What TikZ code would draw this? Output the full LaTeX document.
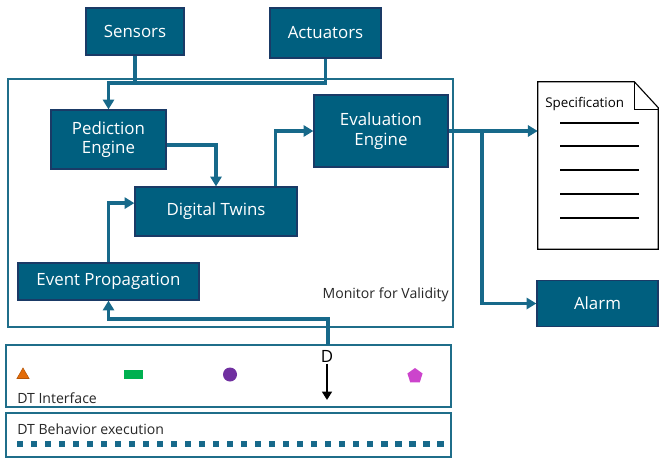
\documentclass[tikz,border=0pt]{standalone}
\usepackage{fontspec}
\setmainfont{Open Sans}
\usetikzlibrary{arrows.meta,shapes.geometric}

\definecolor{boxfill}{HTML}{005F7F}
\definecolor{boxline}{HTML}{1A3A66}
\definecolor{linkblue}{HTML}{17698A}
\definecolor{frameblue}{HTML}{1F6E8A}
\definecolor{triorange}{HTML}{E36C09}
\definecolor{recgreen}{HTML}{00B050}
\definecolor{dotpurple}{HTML}{7030A0}
\definecolor{pentmagenta}{HTML}{CC44CC}

\begin{document}
\begin{tikzpicture}[x=0.025cm,y=-0.025cm,
	block/.style={draw=boxline, line width=0.9pt, fill=boxfill, text=white, align=center,
		font=\fontsize{12}{14}\selectfont, inner sep=0pt},
	frame/.style={draw=frameblue, line width=0.8pt, inner sep=0pt},
	flow/.style={draw=linkblue, line width=2.3pt, -{Triangle[length=7pt,width=8pt]}},
	link/.style={draw=linkblue, line width=2.3pt},
	small/.style={font=\fontsize{10}{12}\selectfont, text=black!85, inner sep=0pt}]

	\useasboundingbox (0,0) rectangle (659,460);

	% frames
	\node (monitor)[frame, minimum width=11.125cm, minimum height=6.2cm] at (230.5,203) {};
	\node (iface)[frame, minimum width=11.125cm, minimum height=1.55cm] at (228.5,376) {};
	\node (behav)[frame, minimum width=11.125cm, minimum height=1.1cm] at (228.5,435) {};

	% blocks
	\node (sens)[block, minimum width=2.45cm, minimum height=1.175cm] at (135,31.5) {Sensors};
	\node (act)[block, minimum width=2.775cm, minimum height=1.25cm] at (325.5,33) {Actuators};
	\node (pred)[block, minimum width=2.875cm, minimum height=1.475cm] at (108.5,139.5) {Pediction\\Engine};
	\node (eval)[block, minimum width=3.35cm, minimum height=1.8cm] at (381,131) {Evaluation\\Engine};
	\node (twins)[block, minimum width=4.05cm, minimum height=1.225cm] at (216,211.5) {Digital Twins};
	\node (event)[block, minimum width=4.525cm, minimum height=0.925cm] at (108.5,281.5) {Event Propagation};
	\node (alarm)[block, minimum width=3.025cm, minimum height=1.15cm] at (597.5,303.5) {Alarm};

	\node (monlabel)[small, anchor=east] at (449,295) {Monitor for Validity};
	\node (ifacelabel)[small, anchor=west] at (17,398) {DT Interface};
	\node (behavlabel)[small, anchor=west] at (17,429) {DT Behavior execution};

	% specification document
	\node (spec)[minimum width=3cm, minimum height=4.175cm, inner sep=0pt] at (598,165.5) {};
	\draw [black, line width=0.8pt, fill=white] (spec.south west) -- (spec.north west)
		-- ([xshift=-0.6cm]spec.north east) -- ([yshift=-0.65cm]spec.north east)
		-- (spec.south east) -- cycle;
	\draw [black, line width=0.8pt] ([xshift=-0.6cm]spec.north east) -- ([xshift=-0.6cm,yshift=-0.7cm]spec.north east)
		-- ([yshift=-0.7cm]spec.north east);
	\node (speclabel)[anchor=west, inner sep=0pt, font=\fontsize{9.5}{11}\selectfont] at (545,104) {Specification};
	\foreach \y in {123,146,170,194,218}
		\draw [black, line width=1.1pt] (560,\y) -- (639,\y);

	% connectors
	\coordinate (bus) at (108.5,83);
	\coordinate (split) at (482,131);
	\coordinate (dsrc) at (328,345);
	\coordinate (bend) at (328,319);

	\draw [link] (sens.south) |- (bus);
	\draw [flow] (act.south) |- (bus) -- (pred.north);
	\draw [flow] ([yshift=-0.14cm]pred.east) -| (twins.north);
	\draw [flow] ([xshift=-0.55cm]twins.north east) |- (eval.west);
	\draw [flow] (event.north) |- ([yshift=0.21cm]twins.west);
	\draw [flow] (dsrc) -- (bend) -| (event.south);
	\draw [flow] (eval.east) -- (eval.east -| spec.west);
	\draw [flow] (split) |- (alarm.west);

	% interface symbols
	\node (tri)[regular polygon, regular polygon sides=3, minimum size=0.35cm, inner sep=0pt,
		fill=triorange, draw=triorange!80!black, line width=0.4pt] at (23,375) {};
	\node (rec)[rectangle, minimum width=0.475cm, minimum height=0.225cm, inner sep=0pt,
		fill=recgreen] at (133.5,374.5) {};
	\node (dot)[circle, minimum size=0.35cm, inner sep=0pt, fill=dotpurple] at (230,374.5) {};
	\node (pent)[regular polygon, regular polygon sides=5, minimum size=0.4cm, inner sep=0pt,
		fill=pentmagenta] at (415,376) {};

	\node (dlabel)[font=\fontsize{12}{14}\selectfont, inner sep=1pt] at (327,356) {D};
	\coordinate (dend) at (327,400);
	\draw [black, line width=1.5pt, -{Triangle[length=6pt,width=7pt]}] (dlabel.south) -- (dend);

	% behaviour execution
	\draw [linkblue, line width=0.15cm, dash pattern=on 0.16cm off 0.19cm] (17,443.5) -- (447,443.5);

\end{tikzpicture}
\end{document}
